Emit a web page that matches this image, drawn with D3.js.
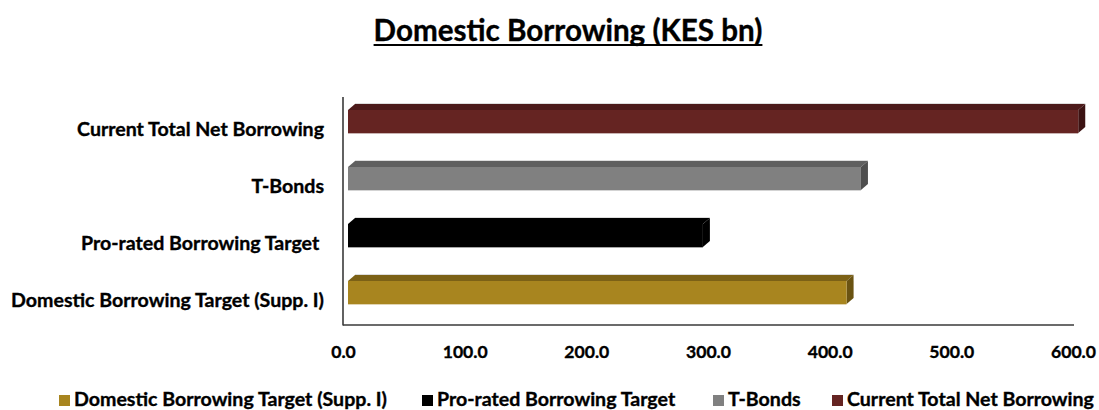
<!DOCTYPE html>
<html><head><meta charset="utf-8">
<script src="https://cdn.jsdelivr.net/npm/d3@7/dist/d3.min.js"></script>
<style>body{margin:0;background:#fff}svg{display:block}text{stroke:#000;stroke-width:0.35px}</style>
</head><body>
<svg id="c" width="1099" height="410"></svg>
<script>
const categories = ["Domestic Borrowing Target (Supp. I)", "Pro-rated Borrowing Target ", "T-Bonds", "Current Total Net Borrowing"];
const values = [409.8, 291.7, 421.6, 600.2];
const legendLabels = ["Domestic Borrowing Target (Supp. I)", "Pro-rated Borrowing Target", "T-Bonds", "Current Total Net Borrowing"];
const tickValues = [0, 100, 200, 300, 400, 500, 600];
const frontColors = ["#a8851f", "#000000", "#808080", "#652422"];
const topColors = ["#7c6116", "#000000", "#5f5f5f", "#4c1a1a"];
const sideColors = ["#6a5312", "#000000", "#4f4f4f", "#3c1313"];

const FONT = "Lato, 'Open Sans', sans-serif";
const svg = d3.select("#c");

const x = d3.scaleLinear().domain([0, 600]).range([343, 1073]);
const y = d3.scaleBand().domain(categories.slice().reverse()).range([97, 325]).paddingInner(0).paddingOuter(0);

function fitSize(sel, target, base) {
  const w = sel.node().getComputedTextLength();
  return base * target / w;
}

// Title
const title = svg.append("text").attr("x", 568).attr("y", 41)
  .attr("text-anchor", "middle").attr("font-family", FONT).attr("font-weight", "bold")
  .attr("font-size", 26).attr("fill", "#000").text("Domestic Borrowing (KES bn)");
title.attr("font-size", fitSize(title, 389, 26));
const tb = title.node().getBBox();
svg.append("line").attr("x1", tb.x).attr("x2", tb.x + tb.width).attr("y1", 45).attr("y2", 45)
  .attr("stroke", "#000").attr("stroke-width", 2);

// Bars
const dx = 7, dy = 6, off = 5, faceTop = 13, faceH = 23;
const g = svg.append("g");
categories.forEach((c, i) => {
  const x0 = x(0) + off, x1 = x(values[i]) + off;
  const yT = y(c) + faceTop, yB = yT + faceH;
  g.append("polygon").attr("points", [[x0, yT], [x0 + dx, yT - dy], [x1 + dx, yT - dy], [x1, yT]].join(" "))
    .attr("fill", topColors[i]);
  g.append("polygon").attr("points", [[x1, yT], [x1 + dx, yT - dy], [x1 + dx, yB - dy], [x1, yB]].join(" "))
    .attr("fill", sideColors[i]);
  g.append("rect").attr("x", x0).attr("y", yT).attr("width", x1 - x0).attr("height", faceH)
    .attr("fill", frontColors[i]);
  g.append("line").attr("x1", x0).attr("x2", x1).attr("y1", yB + 0.5).attr("y2", yB + 0.5)
    .attr("stroke", frontColors[i]).attr("stroke-opacity", 0.35).attr("stroke-width", 1);
  g.append("line").attr("x1", x0 + dx).attr("x2", x1 + dx).attr("y1", yT - dy - 0.5).attr("y2", yT - dy - 0.5)
    .attr("stroke", "#bbb").attr("stroke-opacity", 0.5).attr("stroke-width", 1);
});

// Axes lines
svg.append("line").attr("x1", x(0)).attr("x2", x(0)).attr("y1", 97).attr("y2", 325.5)
  .attr("stroke", "#3a3a3a").attr("stroke-width", 1.6);
svg.append("line").attr("x1", x(0)).attr("x2", 1074).attr("y1", 325).attr("y2", 325)
  .attr("stroke", "#3a3a3a").attr("stroke-width", 1.6);

// X tick labels via axis
const xAxis = d3.axisBottom(x).tickValues(tickValues).tickFormat(d3.format(".1f")).tickSize(0).tickPadding(0);
const xg = svg.append("g").attr("transform", "translate(0,345)").call(xAxis);
xg.select(".domain").remove();
xg.selectAll("text").attr("font-family", FONT).attr("font-weight", "bold").attr("fill", "#000")
  .attr("font-size", 16);
const t100 = xg.selectAll("text").filter(d => d === 100);
const tickSize = fitSize(t100, 45, 16);
xg.selectAll("text").attr("font-size", tickSize).attr("dy", null).attr("y", 13);

// Y category labels
const yAxis = d3.axisLeft(y).tickSize(0).tickPadding(0);
const yg = svg.append("g").attr("transform", "translate(324,0)").call(yAxis);
yg.select(".domain").remove();
yg.selectAll("text").attr("font-family", FONT).attr("font-weight", "bold").attr("fill", "#000")
  .attr("font-size", 16).attr("dy", null).attr("y", 10).style("white-space", "pre");
const longest = yg.selectAll("text").filter(d => d === categories[0]);
const labSize = fitSize(longest, 313, 16);
yg.selectAll("text").attr("font-size", labSize);

// Legend
const legendX = [59, 422, 713, 832];
const lg = svg.append("g");
legendLabels.forEach((l, i) => {
  lg.append("rect").attr("x", legendX[i]).attr("y", 395).attr("width", 11).attr("height", 11).attr("fill", frontColors[i]);
  lg.append("text").attr("x", legendX[i] + 15).attr("y", 406).attr("font-family", FONT).attr("font-weight", "bold")
    .attr("font-size", labSize).attr("fill", "#000").text(l);
});
</script>
</body></html>
